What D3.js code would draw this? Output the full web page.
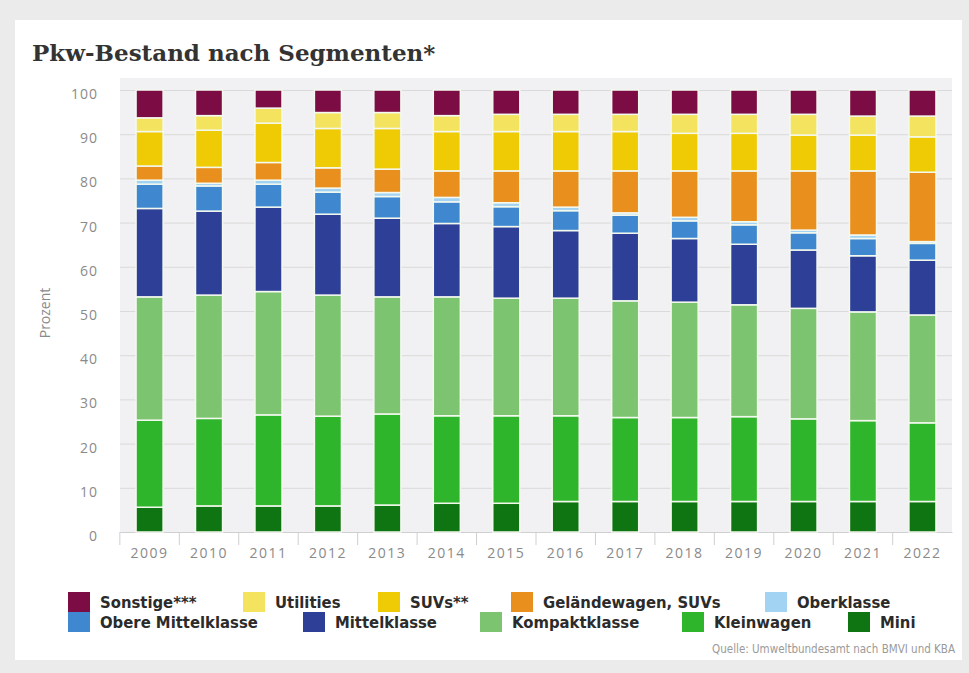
<!DOCTYPE html>
<html>
<head>
<meta charset="utf-8">
<script src="https://cdn.jsdelivr.net/npm/d3@7"></script>
<style>
  body { margin: 0; background: #ebebeb; }
  .axislabel { font-family: "Open Sans", sans-serif; font-size: 14px; fill: #8a8a8a; }
  .tick text { font-family: "Open Sans", sans-serif; font-size: 14px; fill: #8a8a8a; letter-spacing: 1px; }
  .legend text { font-family: "DejaVu Sans Condensed", sans-serif; font-size: 16.5px; font-weight: bold; fill: #2b2b2b; }
</style>
</head>
<body>
<div id="chart"></div>
<script>

// Years on the x axis
var years = ["2009", "2010", "2011", "2012", "2013", "2014", "2015", "2016", "2017", "2018", "2019", "2020", "2021", "2022"];

// Share of car stock per segment (percent), bottom to top of the stack
var mini         = [5.6, 5.9, 5.9, 5.9, 6.1, 6.5, 6.5, 6.9, 6.9, 6.9, 6.9, 6.9, 6.9, 6.9];
var kleinwagen   = [19.7, 19.8, 20.6, 20.3, 20.6, 19.8, 19.8, 19.4, 19.0, 19.0, 19.2, 18.7, 18.3, 17.8];
var kompakt      = [27.9, 27.9, 27.9, 27.4, 26.5, 26.9, 26.6, 26.6, 26.4, 26.1, 25.3, 25.0, 24.6, 24.4];
var mittel       = [20.0, 19.0, 19.1, 18.3, 17.8, 16.6, 16.2, 15.3, 15.3, 14.4, 13.7, 13.2, 12.7, 12.4];
var obereMittel  = [5.5, 5.7, 5.2, 5.0, 4.9, 4.9, 4.5, 4.5, 4.1, 4.0, 4.4, 3.9, 3.9, 3.8];
var oberklasse   = [0.9, 0.6, 0.9, 0.9, 0.9, 1.0, 0.9, 0.8, 0.5, 0.8, 0.7, 0.6, 0.8, 0.4];
var gelaende     = [3.2, 3.6, 4.0, 4.6, 5.3, 6.0, 7.2, 8.2, 9.5, 10.5, 11.5, 13.4, 14.5, 15.7];
var suvs         = [7.8, 8.4, 8.9, 8.9, 9.2, 8.9, 8.9, 8.9, 8.9, 8.5, 8.5, 8.1, 8.1, 8.0];
var utilities    = [3.1, 3.3, 3.4, 3.6, 3.6, 3.6, 3.9, 3.9, 3.9, 4.3, 4.3, 4.7, 4.3, 4.7];
var sonstige     = [6.3, 5.8, 4.1, 5.1, 5.1, 5.8, 5.5, 5.5, 5.5, 5.5, 5.5, 5.5, 5.9, 5.9];

// Y axis ticks
var yTicks = [0, 10, 20, 30, 40, 50, 60, 70, 80, 90, 100];

// Segment names (legend order) and colours
var segments = [
  {key: "sonstige",    name: "Sonstige***",         values: sonstige,    color: "#7c0c44"},
  {key: "utilities",   name: "Utilities",           values: utilities,   color: "#f4e35e"},
  {key: "suvs",        name: "SUVs**",              values: suvs,        color: "#efcb05"},
  {key: "gelaende",    name: "Geländewagen, SUVs",  values: gelaende,    color: "#e98f1d"},
  {key: "oberklasse",  name: "Oberklasse",          values: oberklasse,  color: "#a3d3f2"},
  {key: "obereMittel", name: "Obere Mittelklasse",  values: obereMittel, color: "#3f88cf"},
  {key: "mittel",      name: "Mittelklasse",        values: mittel,      color: "#2d3f97"},
  {key: "kompakt",     name: "Kompaktklasse",       values: kompakt,     color: "#7dc470"},
  {key: "kleinwagen",  name: "Kleinwagen",          values: kleinwagen,  color: "#2eb52b"},
  {key: "mini",        name: "Mini",                values: mini,        color: "#0f7412"}
];

var W = 969, H = 673;
var margin = {top: 90, right: 17, bottom: 141, left: 120},
width = W - margin.left - margin.right,
height = H - margin.top - margin.bottom;

var svg = d3.select("#chart")
  .append("svg")
  .attr("width", W)
  .attr("height", H);

// White card
svg.append("rect")
  .attr("x", 15).attr("y", 20)
  .attr("width", 947).attr("height", 640)
  .attr("fill", "#ffffff");

// Title
svg.append("text")
  .attr("x", 32).attr("y", 61)
  .style("font-family", "'DejaVu Serif', serif")
  .style("font-size", "23px")
  .style("font-weight", "bold")
  .style("fill", "#333333")
  .text("Pkw-Bestand nach Segmenten*");

var g = svg.append("g")
  .attr("transform", "translate(" + margin.left + "," + margin.top + ")");

// Plot background
g.append("rect")
  .attr("x", 0).attr("y", -12)
  .attr("width", width).attr("height", height + 12)
  .attr("fill", "#f1f0f2");

// Table for the stack, built from the arrays
var table = years.map(function(y, i) {
  var row = {year: y};
  segments.forEach(function(s) { row[s.key] = s.values[i]; });
  return row;
});

var stackOrder = segments.slice().reverse().map(function(s) { return s.key; });
var stacked = d3.stack().keys(stackOrder)(table);
var colorOf = {};
segments.forEach(function(s) { colorOf[s.key] = s.color; });

// Scales
var x = d3.scaleBand()
  .domain(years)
  .range([0, width])
  .paddingInner(0.545)
  .paddingOuter(0.27);

var y = d3.scaleLinear()
  .domain([0, 100])
  .range([height, 0]);

// Grid lines + y labels
var yAxis = g.append("g")
  .call(d3.axisLeft(y).tickValues(yTicks).tickSize(-width).tickPadding(22));
yAxis.select(".domain").remove();
yAxis.selectAll(".tick line").attr("stroke", "#dadada");
yAxis.selectAll(".tick text").attr("dy", "0.6em");

// X axis with ticks between the years
var xAxis = g.append("g")
  .attr("transform", "translate(0," + height + ")")
  .call(d3.axisBottom(x).tickSize(0).tickPadding(16));
xAxis.select(".domain").attr("stroke", "#cfcfcf");
xAxis.selectAll(".tick text").style("letter-spacing", "1.5px");

g.append("g")
  .selectAll("line")
  .data(years)
  .enter()
  .append("line")
  .attr("x1", function(d) { return x(d) - x.step() * x.paddingInner() / 2; })
  .attr("x2", function(d) { return x(d) - x.step() * x.paddingInner() / 2; })
  .attr("y1", height)
  .attr("y2", height + 13)
  .attr("stroke", "#cfcfcf");

// Bars
g.append("g")
  .selectAll("g")
  .data(stacked)
  .enter()
  .append("g")
  .attr("fill", function(d) { return colorOf[d.key]; })
  .selectAll("rect")
  .data(function(d) { return d; })
  .enter()
  .append("rect")
  .attr("x", function(d) { return x(d.data.year); })
  .attr("y", function(d) { return y(d[1]); })
  .attr("height", function(d) { return y(d[0]) - y(d[1]); })
  .attr("width", x.bandwidth())
  .attr("stroke", "#f4f9ef")
  .attr("stroke-width", 1.5);

// Y axis label
svg.append("text")
  .attr("class", "axislabel")
  .attr("transform", "translate(50," + (margin.top + height / 2 + 2) + ") rotate(-90)")
  .style("text-anchor", "middle")
  .text("Prozent");

// Legend, two rows; item left edges as laid out in the original
var legendRows = [segments.slice(0, 5), segments.slice(5)];
var legendX = [[68, 243, 378, 511, 765], [68, 303, 480, 682, 848]];
var legend = svg.append("g").attr("class", "legend");

legendRows.forEach(function(row, r) {
  var ly = 592 + r * 20;
  row.forEach(function(s, i) {
    var lx = legendX[r][i];
    legend.append("rect")
      .attr("x", lx).attr("y", ly)
      .attr("width", 22).attr("height", 20)
      .attr("fill", s.color);
    legend.append("text")
      .attr("x", lx + 32).attr("y", ly + 16)
      .text(s.name);
  });
});

// Source
svg.append("text")
  .attr("x", 955).attr("y", 653)
  .style("text-anchor", "end")
  .style("font-family", "'DejaVu Sans Condensed', sans-serif")
  .style("font-size", "11.5px")
  .style("fill", "#9a9a9a")
  .text("Quelle: Umweltbundesamt nach BMVI und KBA");

</script>
</body>
</html>
